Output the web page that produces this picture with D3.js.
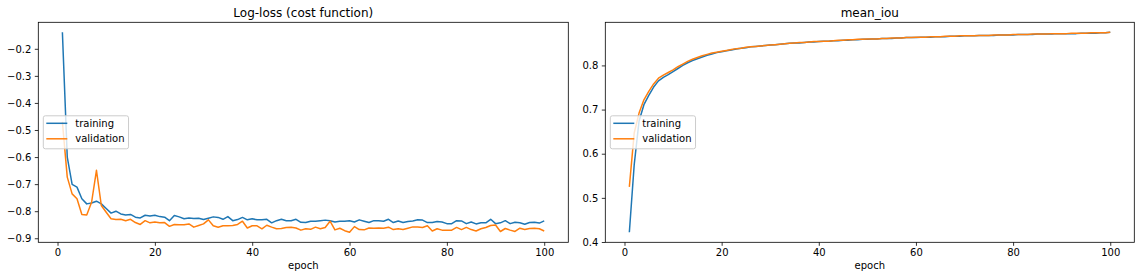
<!DOCTYPE html>
<html>
<head>
<meta charset="utf-8">
<script src="https://cdn.jsdelivr.net/npm/d3@7"></script>
<style>
  body { margin: 0; background: #fff; }
  svg { display: block; font-family: "DejaVu Sans", sans-serif; }
</style>
</head>
<body>
<script>
// epochs 1..100
var epochs = d3.range(1, 101);

// log-loss per epoch
var lossTrain = [
  -0.139, -0.600, -0.701, -0.711, -0.754, -0.773, -0.770, -0.763, -0.773, -0.790,
  -0.807, -0.800, -0.810, -0.814, -0.812, -0.822, -0.825, -0.815, -0.818, -0.815,
  -0.820, -0.822, -0.835, -0.816, -0.821, -0.828, -0.825, -0.827, -0.826, -0.831,
  -0.826, -0.821, -0.823, -0.830, -0.820, -0.835, -0.831, -0.823, -0.832, -0.828,
  -0.832, -0.832, -0.830, -0.843, -0.835, -0.830, -0.835, -0.835, -0.830, -0.841,
  -0.842, -0.837, -0.837, -0.835, -0.833, -0.835, -0.840, -0.837, -0.837, -0.835,
  -0.840, -0.832, -0.837, -0.842, -0.835, -0.835, -0.837, -0.830, -0.842, -0.836,
  -0.842, -0.838, -0.836, -0.832, -0.833, -0.842, -0.842, -0.838, -0.840, -0.846,
  -0.846, -0.835, -0.836, -0.846, -0.840, -0.847, -0.843, -0.843, -0.830, -0.846,
  -0.843, -0.835, -0.846, -0.841, -0.843, -0.848, -0.842, -0.841, -0.844, -0.836
];
var lossVal = [
  -0.470, -0.674, -0.736, -0.754, -0.812, -0.814, -0.767, -0.649, -0.779, -0.804,
  -0.828, -0.831, -0.830, -0.835, -0.830, -0.842, -0.849, -0.835, -0.843, -0.840,
  -0.843, -0.842, -0.856, -0.849, -0.850, -0.850, -0.847, -0.859, -0.853, -0.847,
  -0.832, -0.854, -0.859, -0.854, -0.854, -0.853, -0.849, -0.837, -0.862, -0.854,
  -0.854, -0.865, -0.852, -0.859, -0.865, -0.864, -0.860, -0.859, -0.862, -0.870,
  -0.865, -0.867, -0.859, -0.865, -0.860, -0.837, -0.869, -0.863, -0.872, -0.878,
  -0.857, -0.868, -0.869, -0.862, -0.863, -0.862, -0.863, -0.859, -0.868, -0.865,
  -0.868, -0.863, -0.858, -0.858, -0.860, -0.854, -0.873, -0.865, -0.870, -0.870,
  -0.870, -0.860, -0.868, -0.860, -0.868, -0.873, -0.865, -0.860, -0.853, -0.851,
  -0.875, -0.864, -0.870, -0.875, -0.863, -0.868, -0.864, -0.863, -0.865, -0.873
];

// mean IoU per epoch
var iouTrain = [
  0.422, 0.575, 0.674, 0.711, 0.732, 0.751, 0.765, 0.773, 0.779, 0.786,
  0.793, 0.800, 0.806, 0.811, 0.815, 0.819, 0.823, 0.826, 0.829, 0.831,
  0.833, 0.835, 0.837, 0.839, 0.840, 0.842, 0.843, 0.844, 0.845, 0.846,
  0.847, 0.848, 0.849, 0.850, 0.851, 0.851, 0.852, 0.853, 0.853, 0.854,
  0.855, 0.855, 0.856, 0.856, 0.857, 0.857, 0.858, 0.858, 0.859, 0.859,
  0.860, 0.860, 0.861, 0.861, 0.861, 0.862, 0.862, 0.863, 0.863, 0.863,
  0.864, 0.864, 0.864, 0.865, 0.865, 0.865, 0.866, 0.866, 0.866, 0.867,
  0.867, 0.867, 0.868, 0.868, 0.868, 0.868, 0.869, 0.869, 0.869, 0.869,
  0.870, 0.870, 0.870, 0.870, 0.871, 0.871, 0.871, 0.871, 0.872, 0.872,
  0.872, 0.872, 0.872, 0.873, 0.873, 0.873, 0.873, 0.874, 0.874, 0.875
];
var iouVal = [
  0.525, 0.647, 0.692, 0.722, 0.741, 0.758, 0.771, 0.778, 0.784, 0.790,
  0.797, 0.803, 0.809, 0.814, 0.818, 0.822, 0.825, 0.828, 0.830, 0.832,
  0.834, 0.836, 0.838, 0.839, 0.841, 0.842, 0.843, 0.844, 0.845, 0.846,
  0.847, 0.848, 0.849, 0.850, 0.851, 0.852, 0.852, 0.853, 0.854, 0.854,
  0.855, 0.855, 0.856, 0.857, 0.857, 0.858, 0.858, 0.859, 0.859, 0.860,
  0.860, 0.860, 0.861, 0.861, 0.862, 0.862, 0.862, 0.863, 0.863, 0.864,
  0.864, 0.864, 0.865, 0.865, 0.865, 0.866, 0.866, 0.866, 0.867, 0.867,
  0.867, 0.867, 0.868, 0.868, 0.868, 0.869, 0.869, 0.869, 0.869, 0.870,
  0.870, 0.870, 0.870, 0.871, 0.871, 0.871, 0.871, 0.872, 0.872, 0.872,
  0.872, 0.873, 0.873, 0.873, 0.873, 0.874, 0.874, 0.874, 0.874, 0.875
];

var epochTicks = [0, 20, 40, 60, 80, 100];
var lossTicks = [-0.9, -0.8, -0.7, -0.6, -0.5, -0.4, -0.3, -0.2];
var iouTicks = [0.4, 0.5, 0.6, 0.7, 0.8];
var seriesNames = ["training", "validation"];
var colors = ["#1f77b4", "#ff7f0e"];

var W = 1144, H = 280;
var svg = d3.select("body").append("svg").attr("width", W).attr("height", H);

// matplotlib-like 5% margins around data
function padded(arr) {
  var lo = d3.min(arr), hi = d3.max(arr), p = (hi - lo) * 0.05;
  return [lo - p, hi + p];
}

var fmt = function (d) { return d3.format(".1f")(d).replace("-", "\u2212"); };

function panel(left, right, title, train, val, yTicks) {
  var top = 22.3, bottom = 242.3;
  var x = d3.scaleLinear().domain(padded(epochs)).range([left, right]);
  var y = d3.scaleLinear().domain(padded(train.concat(val))).range([bottom, top]);
  var g = svg.append("g");

  g.append("defs").append("clipPath").attr("id", "clip" + left)
    .append("rect").attr("x", left).attr("y", top).attr("width", right - left).attr("height", bottom - top);

  var line = d3.line().x(function (d, i) { return x(epochs[i]); }).y(function (d) { return y(d); });
  [train, val].forEach(function (s, k) {
    g.append("path").datum(s)
      .attr("clip-path", "url(#clip" + left + ")")
      .attr("d", line)
      .attr("fill", "none")
      .attr("stroke", colors[k])
      .attr("stroke-width", 1.5)
      .attr("stroke-linejoin", "round");
  });

  // axes
  var xa = d3.axisBottom(x).tickValues(epochTicks).tickSize(3.5).tickPadding(3.5).tickFormat(d3.format("d"));
  var ya = d3.axisLeft(y).tickValues(yTicks).tickSize(3.5).tickPadding(3.5).tickFormat(fmt);
  var gx = g.append("g").attr("transform", "translate(0," + bottom + ")").call(xa);
  var gy = g.append("g").attr("transform", "translate(" + left + ",0)").call(ya);
  [gx, gy].forEach(function (a) {
    a.select(".domain").remove();
    a.selectAll("line").attr("stroke", "#000").attr("stroke-width", 0.8);
    a.selectAll("text").attr("font-size", 10).attr("fill", "#000").attr("font-family", "DejaVu Sans");
  });

  g.append("rect").attr("x", left).attr("y", top).attr("width", right - left).attr("height", bottom - top)
    .attr("fill", "none").attr("stroke", "#000").attr("stroke-width", 0.8);

  g.append("text").attr("x", (left + right) / 2).attr("y", 16.5).attr("text-anchor", "middle")
    .attr("font-size", 12).text(title);
  g.append("text").attr("x", (left + right) / 2).attr("y", 269).attr("text-anchor", "middle")
    .attr("font-size", 10).text("epoch");

  // legend, center left
  var lx = left + 5, ly = (top + bottom) / 2 - 16.5;
  var lg = g.append("g");
  var box = lg.append("rect").attr("x", lx).attr("y", ly).attr("height", 33).attr("rx", 2)
    .attr("fill", "#fff").attr("fill-opacity", 0.8).attr("stroke", "#cccccc").attr("stroke-width", 1);
  var maxW = 0;
  seriesNames.forEach(function (n, k) {
    var cy = ly + 7.5 + k * 15.5;
    lg.append("line").attr("x1", lx + 3).attr("x2", lx + 24).attr("y1", cy).attr("y2", cy)
      .attr("stroke", colors[k]).attr("stroke-width", 1.5);
    var t = lg.append("text").attr("x", lx + 32).attr("y", cy + 3.6).attr("font-size", 10).text(n);
    maxW = Math.max(maxW, t.node().getComputedTextLength());
  });
  box.attr("width", 32 + maxW + 4);
}

panel(38.3, 568.3, "Log-loss (cost function)", lossTrain, lossVal, lossTicks);
panel(605.3, 1134.3, "mean_iou", iouTrain, iouVal, iouTicks);
</script>
</body>
</html>
